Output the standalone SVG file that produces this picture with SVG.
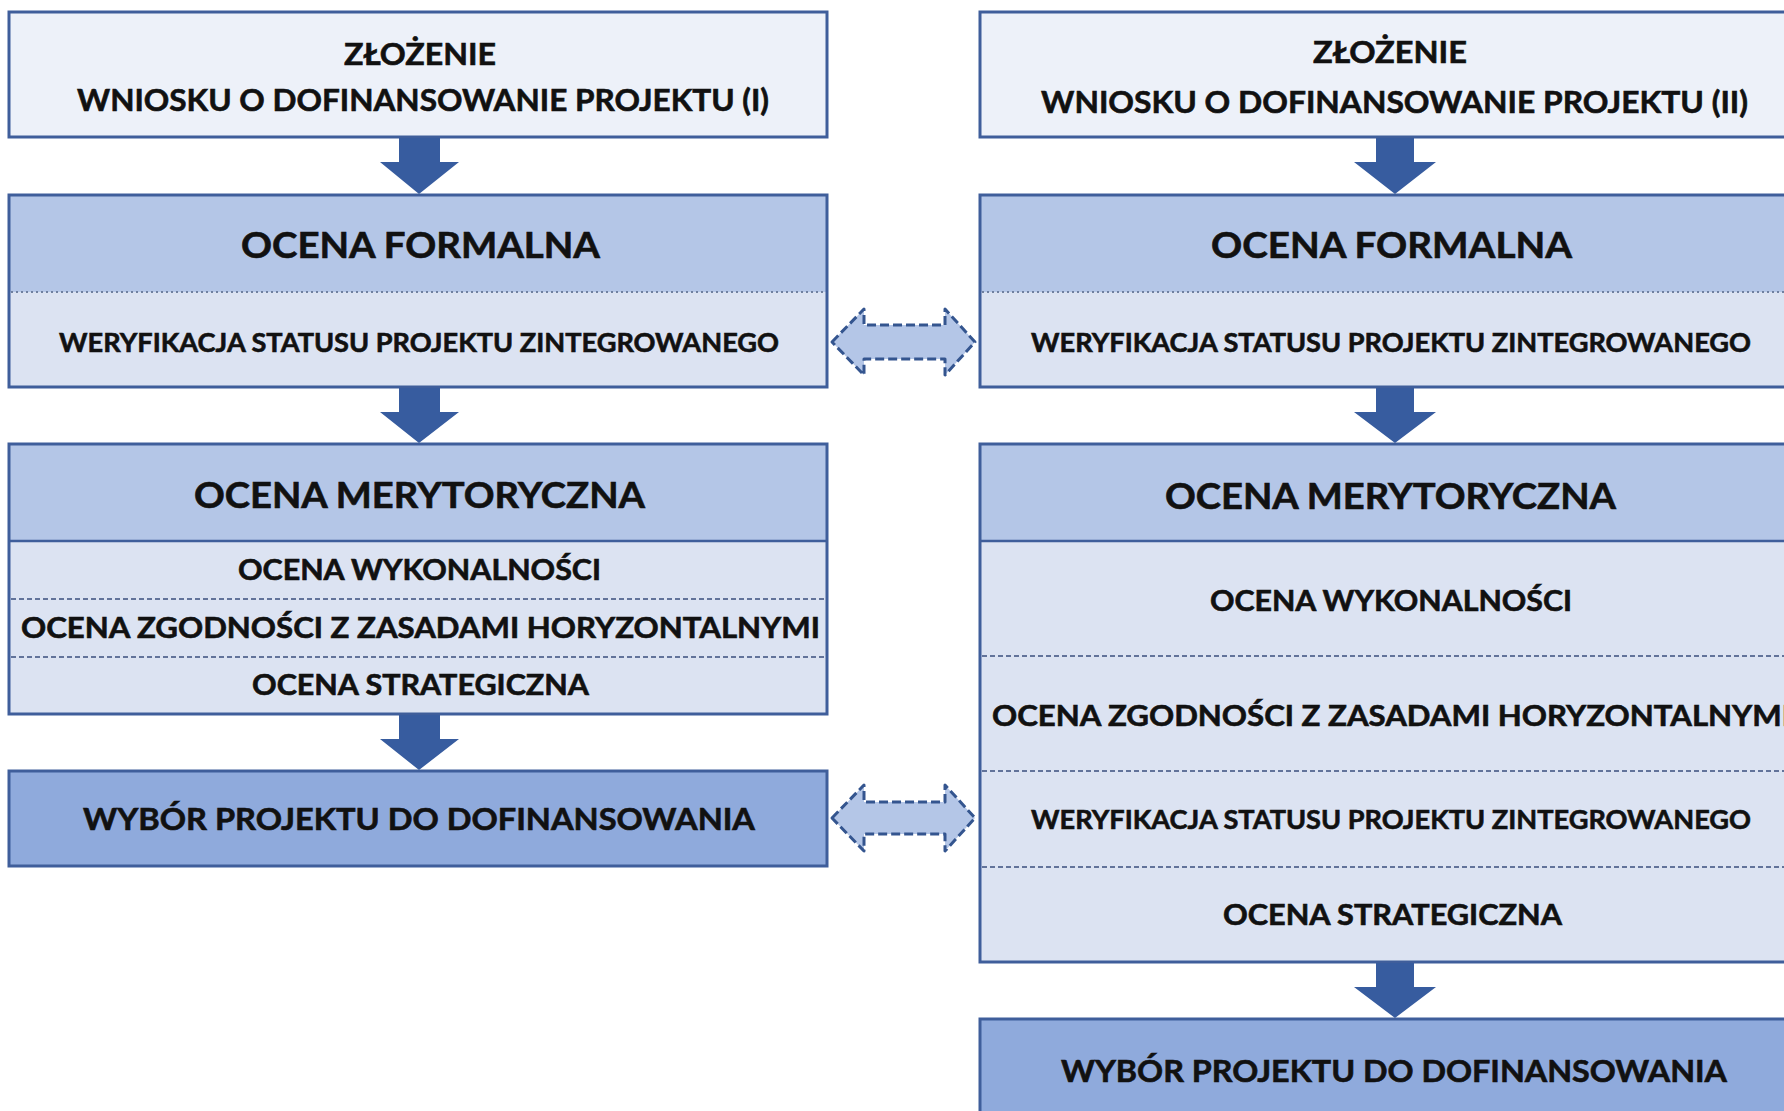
<svg xmlns="http://www.w3.org/2000/svg" width="1784" height="1111" viewBox="0 0 1784 1111">
<defs>
<style>
.box{stroke:#3F5E9B;stroke-width:3}
.pale{fill:#EDF1F9}
.light{fill:#DCE3F2}
.head{fill:#B4C6E7}
.sel{fill:#8FAADC}
.sep{stroke:#3F5E9B;stroke-width:2.5}
.dot{stroke:#6F80A0;stroke-width:2;stroke-dasharray:2 3}
.dash{stroke:#62739A;stroke-width:2;stroke-dasharray:5 3}
.down{fill:#375C9F}
.dbl{fill:#B4C6E7;stroke:#34558F;stroke-width:3;stroke-dasharray:9 4;stroke-linejoin:round}
text{font-family:Lato,"Open Sans","Liberation Sans",sans-serif;font-weight:bold;fill:#111111;stroke:#111111;stroke-width:0.6}
.t30{font-size:31px}
.t35{font-size:36px}
.t26{font-size:27px}
.t28{font-size:29px}
.t29{font-size:30px}
</style>
</defs>
<rect width="1784" height="1111" fill="#FFFFFF"/>

<g id="left-zlozenie">
<rect class="box pale" x="9" y="12" width="818" height="125"/>
<text class="t30" x="344" y="65" textLength="152" lengthAdjust="spacingAndGlyphs">ZŁOŻENIE</text>
<text class="t30" x="77" y="111" textLength="692" lengthAdjust="spacingAndGlyphs">WNIOSKU O DOFINANSOWANIE PROJEKTU (I)</text>
</g>

<g id="left-formalna">
<rect class="head" x="9" y="195" width="818" height="97"/>
<rect class="light" x="9" y="292" width="818" height="95"/>
<line class="dot" x1="11" y1="292" x2="825" y2="292"/>
<rect class="box" fill="none" x="9" y="195" width="818" height="192"/>
<text class="t35" x="241" y="258" textLength="359" lengthAdjust="spacingAndGlyphs">OCENA FORMALNA</text>
<text class="t26" x="59" y="352" textLength="720" lengthAdjust="spacingAndGlyphs">WERYFIKACJA STATUSU PROJEKTU ZINTEGROWANEGO</text>
</g>

<g id="left-merytoryczna">
<rect class="head" x="9" y="444" width="818" height="97"/>
<rect class="light" x="9" y="541" width="818" height="173"/>
<line class="sep" x1="9" y1="541" x2="827" y2="541"/>
<line class="dash" x1="11" y1="599" x2="825" y2="599"/>
<line class="dash" x1="11" y1="657" x2="825" y2="657"/>
<rect class="box" fill="none" x="9" y="444" width="818" height="270"/>
<text class="t35" x="194" y="508" textLength="451" lengthAdjust="spacingAndGlyphs">OCENA MERYTORYCZNA</text>
<text class="t28" x="238" y="580" textLength="363" lengthAdjust="spacingAndGlyphs">OCENA WYKONALNOŚCI</text>
<text class="t28" x="21" y="638" textLength="799" lengthAdjust="spacingAndGlyphs">OCENA ZGODNOŚCI Z ZASADAMI HORYZONTALNYMI</text>
<text class="t28" x="252" y="695" textLength="337" lengthAdjust="spacingAndGlyphs">OCENA STRATEGICZNA</text>
</g>

<g id="left-wybor">
<rect class="box sel" x="9" y="771" width="818" height="95"/>
<text class="t29" x="83" y="830" textLength="672" lengthAdjust="spacingAndGlyphs">WYBÓR PROJEKTU DO DOFINANSOWANIA</text>
</g>

<g id="right-zlozenie">
<rect class="box pale" x="980" y="12" width="830" height="125"/>
<text class="t30" x="1313" y="63" textLength="154" lengthAdjust="spacingAndGlyphs">ZŁOŻENIE</text>
<text class="t30" x="1041" y="113" textLength="707" lengthAdjust="spacingAndGlyphs">WNIOSKU O DOFINANSOWANIE PROJEKTU (II)</text>
</g>

<g id="right-formalna">
<rect class="head" x="980" y="195" width="830" height="97"/>
<rect class="light" x="980" y="292" width="830" height="95"/>
<line class="dot" x1="982" y1="292" x2="1784" y2="292"/>
<rect class="box" fill="none" x="980" y="195" width="830" height="192"/>
<text class="t35" x="1211" y="258" textLength="361" lengthAdjust="spacingAndGlyphs">OCENA FORMALNA</text>
<text class="t26" x="1031" y="352" textLength="720" lengthAdjust="spacingAndGlyphs">WERYFIKACJA STATUSU PROJEKTU ZINTEGROWANEGO</text>
</g>

<g id="right-merytoryczna">
<rect class="head" x="980" y="444" width="830" height="97"/>
<rect class="light" x="980" y="541" width="830" height="421"/>
<line class="sep" x1="980" y1="541" x2="1784" y2="541"/>
<line class="dash" x1="982" y1="656" x2="1784" y2="656"/>
<line class="dash" x1="982" y1="771" x2="1784" y2="771"/>
<line class="dash" x1="982" y1="867" x2="1784" y2="867"/>
<rect class="box" fill="none" x="980" y="444" width="830" height="518"/>
<text class="t35" x="1165" y="509" textLength="451" lengthAdjust="spacingAndGlyphs">OCENA MERYTORYCZNA</text>
<text class="t28" x="1210" y="611" textLength="362" lengthAdjust="spacingAndGlyphs">OCENA WYKONALNOŚCI</text>
<text class="t28" x="992" y="726" textLength="799" lengthAdjust="spacingAndGlyphs">OCENA ZGODNOŚCI Z ZASADAMI HORYZONTALNYMI</text>
<text class="t26" x="1031" y="829" textLength="720" lengthAdjust="spacingAndGlyphs">WERYFIKACJA STATUSU PROJEKTU ZINTEGROWANEGO</text>
<text class="t28" x="1223" y="925" textLength="339" lengthAdjust="spacingAndGlyphs">OCENA STRATEGICZNA</text>
</g>

<g id="right-wybor">
<rect class="box sel" x="980" y="1019" width="830" height="110"/>
<text class="t29" x="1061" y="1082" textLength="666" lengthAdjust="spacingAndGlyphs">WYBÓR PROJEKTU DO DOFINANSOWANIA</text>
</g>

<g id="connectors">
<polygon class="down" points="399,138 440,138 440,162 459,162 419,194 380,162 399,162"/>
<polygon class="down" points="399,388 440,388 440,412 459,412 419,443 380,412 399,412"/>
<polygon class="down" points="399,715 440,715 440,739 459,739 419,770 380,739 399,739"/>
<polygon class="down" points="1376,138 1414,138 1414,162 1436,162 1395,194 1354,162 1376,162"/>
<polygon class="down" points="1376,388 1414,388 1414,412 1436,412 1395,443 1354,412 1376,412"/>
<polygon class="down" points="1376,963 1414,963 1414,987 1436,987 1395,1018 1354,987 1376,987"/>
<polygon class="dbl" points="832,342 864,309 864,325 945,325 945,309 975,342 945,375 945,359 864,359 864,375"/>
<polygon class="dbl" points="832,818 864,785 864,802 945,802 945,785 975,818 945,851 945,834 864,834 864,851"/>
</g>
</svg>
